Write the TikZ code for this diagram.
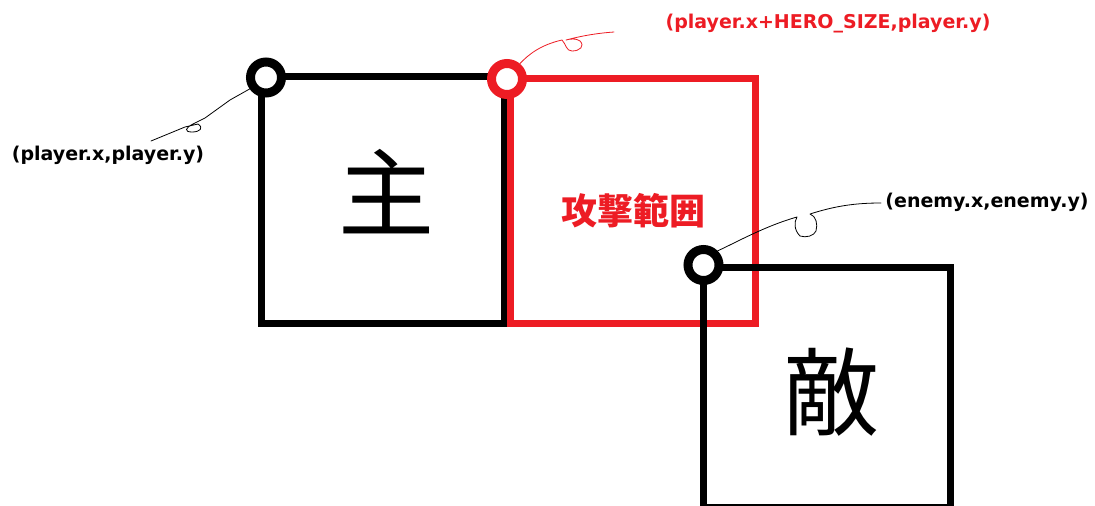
\documentclass[tikz,border=0pt]{standalone}
\usepackage{fontspec}
\setmainfont{DejaVu Sans}
\newfontfamily\cjk{Noto Sans CJK JP}
\definecolor{pred}{HTML}{ED1C24}
\begin{document}
\begin{tikzpicture}[x=1pt,y=-1pt,
  box/.style={draw, line width=7pt, inner sep=0pt},
  pt/.style={circle, draw, line width=9pt, fill=white, minimum size=31pt, inner sep=0pt},
  lead/.style={line width=0.8pt, line join=round, line cap=round},
  lbl/.style={font=\bfseries\fontsize{19}{22}\selectfont, inner sep=0pt},
  big/.style={font=\cjk\fontsize{96}{100}\selectfont, inner sep=0pt}]
\useasboundingbox[fill=white] (0,0) rectangle (1095,506);
% boxes
\node[box, minimum width=242.5pt, minimum height=247.5pt] (player) at (382.75,199.75) {};
\node[box, draw=pred, minimum width=245.5pt, minimum height=245.5pt] (range) at (632.75,200.75) {};
\node[box, minimum width=247pt, minimum height=240pt] (enemy) at (827,387) {};
% texts
\node[big] (tplayer) at (386,192) {主};
\node[big] (tenemy) at (831,392) {敵};
\node[font=\cjk\bfseries\fontsize{36}{40}\selectfont, text=pred, inner sep=0pt] (trange) at (633,211) {攻撃範囲};
% corner points
\node[pt] (pc) at (266,77.5) {};
\node[pt, draw=pred] (rc) at (507,79) {};
\node[pt] (ec) at (703.5,265) {};
% labels
\node[lbl] (lp) at (108,155) {(player.x,player.y)};
\node[lbl, text=pred] (lr) at (828,24) {(player.x+HERO\_SIZE,player.y)};
\node[lbl] (le) at (987,202) {(enemy.x,enemy.y)};
\coordinate (lpend) at (151,141);
\coordinate (lrend) at (614,32);
\coordinate (leend) at (881,203);
% leaders
\draw[lead] (pc.215) -- (230,100) -- (205,118) -- (193,124)
  .. controls (185,128) and (184,132) .. (192,132)
  .. controls (200,132) and (204,128) .. (198,124)
  -- (185,127) -- (lpend);
\draw[lead, draw=pred] (rc.50) .. controls (528,55) and (540,45) .. (562,40)
  .. controls (566,44) and (566,51) .. (572,51)
  .. controls (580,51) and (585,46) .. (580,41)
  .. controls (576,38) and (570,39) .. (566,40)
  .. controls (585,35) and (600,33) .. (lrend);
\draw[lead] (ec.45) .. controls (735,243) and (765,226) .. (797,217)
  .. controls (794,222) and (794,230) .. (800,236)
  .. controls (806,238) and (814,236) .. (816,231)
  .. controls (818,224) and (816,216) .. (810,214)
  .. controls (835,206) and (855,203) .. (leend);
\end{tikzpicture}
\end{document}
